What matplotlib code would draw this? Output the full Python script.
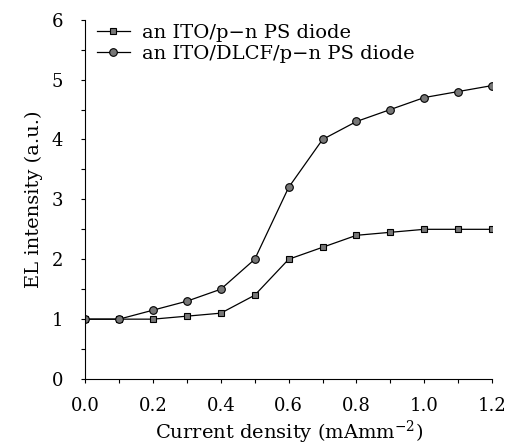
import matplotlib
matplotlib.use("Agg")
import matplotlib.pyplot as plt
from matplotlib.ticker import MultipleLocator

current = [0.0, 0.1, 0.2, 0.3, 0.4, 0.5, 0.6, 0.7, 0.8, 0.9, 1.0, 1.1, 1.2]
ito_pn = [1.0, 1.0, 1.0, 1.05, 1.1, 1.4, 2.0, 2.2, 2.4, 2.45, 2.5, 2.5, 2.5]
ito_dlcf_pn = [1.0, 1.0, 1.15, 1.3, 1.5, 2.0, 3.2, 4.0, 4.3, 4.5, 4.7, 4.8, 4.9]

plt.rcParams['font.family'] = ['DejaVu Serif']
plt.rcParams['mathtext.fontset'] = 'dejavuserif'

fig = plt.figure(figsize=(5.1, 4.47), dpi=100)
ax = fig.add_axes([0.167, 0.152, 0.798, 0.804])

ax.plot(current, ito_pn, color='black', lw=0.9, marker='s', ms=5,
        mfc='#777777', mec='black', mew=0.8, label='an ITO/p\u2212n PS diode')
ax.plot(current, ito_dlcf_pn, color='black', lw=0.9, marker='o', ms=5.5,
        mfc='#777777', mec='black', mew=0.8, label='an ITO/DLCF/p\u2212n PS diode')

ax.set_xlim(0, 1.2)
ax.set_ylim(0, 6)
ax.xaxis.set_major_locator(MultipleLocator(0.2))
ax.xaxis.set_minor_locator(MultipleLocator(0.1))
ax.yaxis.set_major_locator(MultipleLocator(1))
ax.yaxis.set_minor_locator(MultipleLocator(0.5))
ax.xaxis.set_major_formatter(plt.FormatStrFormatter('%.1f'))
ax.spines['top'].set_visible(False)
ax.spines['right'].set_visible(False)
ax.tick_params(which='both', direction='out', labelsize=13, width=0.8, length=3)
ax.tick_params(axis='y', pad=13)
ax.tick_params(axis='x', pad=10)

ax.set_xlabel('Current density (mAmm$^{-2}$)', fontsize=14, labelpad=3)
ax.set_ylabel('EL intensity (a.u.)', fontsize=14, labelpad=6)
ax.legend(loc='upper left', bbox_to_anchor=(0.0, 1.02), frameon=False, fontsize=14,
          handlelength=1.7, borderaxespad=0.2, handletextpad=0.6, labelspacing=0.15)

fig.savefig('out.png', dpi=100)
